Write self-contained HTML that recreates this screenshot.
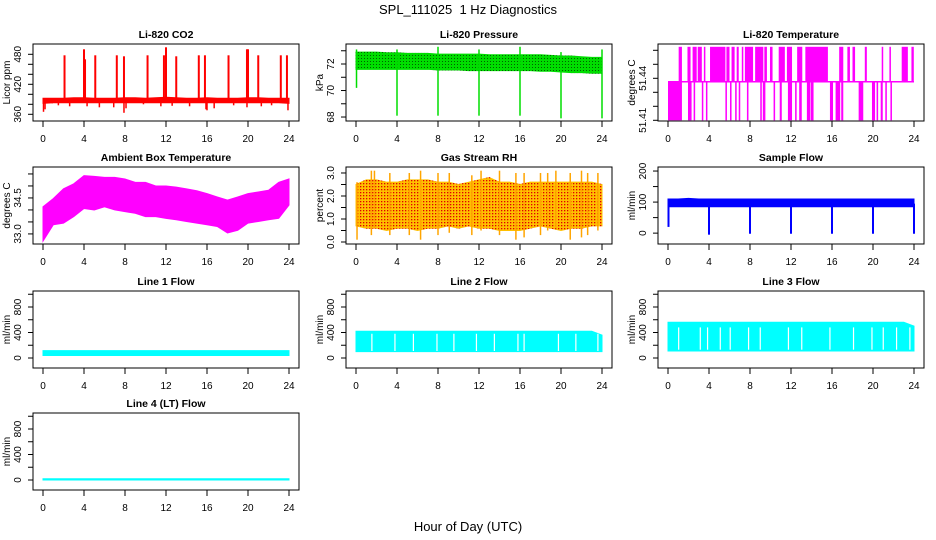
<!DOCTYPE html>
<html><head><meta charset="utf-8"><style>
body{margin:0;background:#fff}
svg{display:block;font-family:"Liberation Sans",sans-serif}
</style></head><body>
<svg id="c" width="936" height="540" viewBox="0 0 936 540">
<defs>
<pattern id="rhdots" width="3" height="3" patternUnits="userSpaceOnUse"><rect width="3" height="3" fill="#ffc000"/><rect x="0" y="0" width="1.3" height="1.3" fill="#e00000"/></pattern>
<pattern id="prdots" width="3" height="3" patternUnits="userSpaceOnUse"><rect width="3" height="3" fill="#00dd00"/><rect x="1" y="1" width="1" height="1" fill="#006000"/></pattern>
</defs>
<text x="468" y="14" text-anchor="middle" font-size="13">SPL_111025&#160; 1 Hz Diagnostics</text>
<text x="468" y="531" text-anchor="middle" font-size="13">Hour of Day (UTC)</text>
</svg>
<script>
// ---- data ----
const hours=[0,1,2,3,4,5,6,7,8,9,10,11,12,13,14,15,16,17,18,19,20,21,22,23,24];
const xTicks=[0,4,8,12,16,20,24];
// CO2
const co2Min=[382,383,383,383,383,383,383,383,383,383,383,383,383,383,383,383,383,383,383,383,383,383,383,383,382];
const co2Max=[392,392,392,393,393,392,392,392,393,393,392,393,394,393,392,392,393,392,392,392,393,393,392,392,392];
const co2SpikeT=[2.1,4.0,4.1,5.1,7.2,7.9,10.2,11.8,12.0,13.0,15.2,15.8,18.1,19.9,20.0,21.0,23.2,23.8];
const co2SpikeV=[478,490,470,478,478,476,478,478,494,476,478,478,478,490,490,478,478,478];
const co2DipT=[0.05,0.2,0.9,1.5,2.6,4.3,5.5,6.9,7.9,8.1,9.8,11.5,12.6,14.3,15.9,16.0,16.7,18.6,19.9,21.3,22.3,23.9];
const co2DipV=[365,370,382,378,376,376,374,374,363,372,380,376,377,376,370,368,372,378,374,376,378,368];
// Pressure
const prMin=[71.6,71.6,71.6,71.6,71.6,71.6,71.6,71.6,71.55,71.55,71.55,71.5,71.5,71.5,71.5,71.5,71.5,71.5,71.45,71.45,71.4,71.35,71.35,71.3,71.3];
const prMax=[72.9,72.9,72.9,72.85,72.85,72.8,72.8,72.8,72.75,72.75,72.75,72.75,72.75,72.7,72.7,72.7,72.7,72.7,72.7,72.65,72.6,72.6,72.55,72.5,72.5];
const prDipT=[0.05,4,8,12,16,20,24];
const prDipV=[70.2,68.1,68.1,68.1,68.1,67.9,67.9];
const prPeakV=[73.1,73.1,73.3,73.1,73.3,72.9,73.1];
// Li-820 temperature
const tLevels=[51.41,51.4375,51.4625];
const tHigh=[[1.04,1.36],[1.9,2.2],[2.4,2.8],[2.9,3.3],[3.5,3.6],[4.1,5.6],[5.7,6.0],[6.2,6.5],[6.7,6.9],[7.2,7.3],[7.5,8.3],[8.5,9.3],[9.4,9.65],[9.95,10.2],[10.8,11.4],[11.6,12.1],[12.6,13.1],[13.4,15.6],[16.7,17.1],[17.5,17.75],[18.0,18.25],[19.2,19.4],[20.85,20.95],[21.6,21.75],[22.8,23.4],[23.75,23.98]];
const tLow=[[0.0,1.36],[1.95,2.3],[2.5,2.65],[3.3,3.4],[3.7,3.8],[5.6,5.75],[6.05,6.2],[6.55,6.7],[6.9,7.05],[7.7,7.85],[9.0,9.15],[9.25,9.5],[10.3,10.45],[10.9,11.1],[11.7,12.1],[12.4,12.55],[12.8,13.05],[13.55,13.9],[13.95,14.2],[15.8,16.1],[16.35,16.8],[16.9,17.1],[18.6,19.05],[19.9,20.2],[20.35,20.5],[20.75,20.95],[21.2,21.35],[21.7,21.85]];
// Ambient box temperature
const ambMin=[32.7,33.38,33.45,33.72,34.06,34.0,34.13,34.0,33.93,33.86,33.72,33.72,33.65,33.59,33.52,33.45,33.38,33.31,33.04,33.15,33.45,33.52,33.59,33.65,34.2];
const ambMax=[34.13,34.47,34.88,35.09,35.43,35.4,35.36,35.36,35.29,35.15,35.15,35.0,35.0,34.95,34.88,34.8,34.68,34.54,34.41,34.54,34.68,34.75,34.82,35.15,35.29];
// Gas stream RH
const rhMin=[0.7,0.6,0.6,0.5,0.6,0.6,0.5,0.6,0.6,0.7,0.6,0.7,0.6,0.6,0.5,0.5,0.5,0.6,0.7,0.6,0.5,0.6,0.6,0.7,0.7];
const rhMax=[2.5,2.7,2.7,2.6,2.6,2.7,2.7,2.7,2.6,2.6,2.5,2.6,2.7,2.8,2.6,2.6,2.5,2.6,2.6,2.6,2.6,2.6,2.6,2.6,2.5];
const rhSpikeT=[0.1,1.5,1.8,3.3,5.2,6.3,8.0,9.1,11.3,12.2,14.0,15.6,16.4,18.0,18.7,19.5,20.9,22.0,22.6,23.6];
const rhSpikeLo=[0.1,0.3,0.6,0.3,0.3,0.1,0.3,0.4,0.3,0.5,0.3,0.1,0.2,0.3,0.5,0.6,0.1,0.2,0.3,0.5];
const rhSpikeHi=[2.6,3.1,3.1,3.0,3.0,3.1,3.0,3.0,2.9,3.1,3.1,3.0,3.0,3.0,3.0,3.1,3.0,3.1,3.0,3.0];
// Sample flow
const sfMin=[85,85,85,85,85,85,85,85,85,85,85,85,85,85,85,85,85,85,85,85,85,85,85,85,85];
const sfMax=[110,110,112,110,110,110,110,110,110,110,110,110,110,110,110,110,110,110,110,110,110,110,110,110,110];
const sfDipT=[0.05,4,8,12,16,20,24];
const sfDipV=[20,-5,-2,-2,-2,-2,-2];
// Line flows
const l1Min=[40,40,40,40,40,40,40,40,40,40,40,40,40,40,40,40,40,40,40,40,40,40,40,40,40];
const l1Max=[115,115,115,115,115,115,115,115,115,115,115,115,115,115,115,115,115,115,115,115,115,115,115,115,115];
const l2Min=[100,100,100,100,100,100,100,100,100,100,100,100,100,100,100,100,100,100,100,100,100,100,100,100,100];
const l2Max=[420,420,420,420,420,420,420,420,420,420,420,420,420,420,420,420,420,420,420,420,420,420,420,420,360];
const l2Gaps=[1.55,3.8,5.6,7.9,9.55,11.75,13.5,15.8,16.4,19.75,21.45,23.6];
const l3Min=[110,110,110,110,110,110,110,110,110,110,110,110,110,110,110,110,110,110,110,110,110,110,110,110,110];
const l3Max=[560,560,560,560,560,560,560,560,560,560,560,560,560,560,560,560,560,560,560,560,560,560,560,560,500];
const l3Gaps=[1.04,3.15,3.86,5.1,6.07,7.86,9.0,11.75,13.05,15.8,18.1,19.9,21.0,22.3,23.6];
const l4Min=[0,0,0,0,0,0,0,0,0,0,0,0,0,0,0,0,0,0,0,0,0,0,0,0,0];
const l4Max=[20,20,20,20,20,20,20,20,20,20,20,20,20,20,20,20,20,20,20,20,20,20,20,20,20];

// ---- rendering ----
const svg=document.getElementById('c');
const NS='http://www.w3.org/2000/svg';
const colL=[33,346,658], rowT=[44,167,291,413], W=266, H=77;
function mk(tag,attrs,parent){const e=document.createElementNS(NS,tag);for(const k in attrs)e.setAttribute(k,attrs[k]);(parent||svg).appendChild(e);return e;}
function panel(col,row,title,ylab,ymin,ymax,ticks,labels,name){
  const L=colL[col],T=rowT[row],B=T+H;
  const g=mk('g',{});
  
  
  const X=h=>L+10+h*(W-20)/24;
  const Y=v=>B-(v-ymin)/(ymax-ymin)*H;
  const plot=mk('g',{},g);
  
  
  const frame=mk('rect',{x:L,y:T,width:W,height:H,fill:'none',stroke:'#000','stroke-width':1},g);
  
  
  const t=mk('text',{x:L+W/2,y:T-6,'text-anchor':'middle','font-size':10.5,'font-weight':'bold'},g);t.textContent=title;
  
  
  const xa=mk('g',{},g);
  
  
  xTicks.forEach(h=>{mk('line',{x1:X(h),x2:X(h),y1:B,y2:B+6,stroke:'#000'},xa);const tx=mk('text',{x:X(h),y:B+21,'text-anchor':'middle','font-size':10},xa);tx.textContent=h;});
  const ya=mk('g',{},g);
  
  
  ticks.forEach((v,i)=>{const y=Y(v);mk('line',{x1:L-5,x2:L,y1:y,y2:y,stroke:'#000'},ya);
    if(labels[i]!==''){const tx=mk('text',{x:0,y:0,'text-anchor':'middle','font-size':10,transform:`translate(${L-12},${y}) rotate(-90)`},ya);tx.textContent=labels[i];}});
  const yl=mk('text',{x:0,y:0,'text-anchor':'middle','font-size':10,transform:`translate(${L-23},${T+H/2}) rotate(-90)`},g);yl.textContent=ylab;
  
  
  return {X,Y,g:plot};
}
function band(p,mn,mx,fill){
  let d='M'+hours.map((h,i)=>p.X(h)+','+p.Y(mx[i])).join('L');
  for(let i=hours.length-1;i>=0;i--)d+='L'+p.X(hours[i])+','+p.Y(mn[i]);
  const e=mk('path',{d:d+'Z',fill:fill,stroke:fill,'stroke-width':1},p.g);
  
  
}
function vl(p,h,v1,v2,c,w){const e=mk('line',{x1:p.X(h),x2:p.X(h),y1:p.Y(v1),y2:p.Y(v2),stroke:c,'stroke-width':w||1.5},p.g);
  
  }

// CO2
let p=panel(0,0,'Li-820 CO2','Licor ppm',346.6,500.6,[360,380,400,420,440,460,480],['360','','','420','','','480'],'co2');
band(p,co2Min,co2Max,'#ff0000');
co2SpikeT.forEach((h,i)=>vl(p,h,388,co2SpikeV[i],'#ff0000',2));
co2DipT.forEach((h,i)=>vl(p,h,388,co2DipV[i],'#ff0000',1.5));
// Pressure
p=panel(1,0,'Li-820 Pressure','kPa',67.7,73.51,[68,69,70,71,72,73],['68','','70','','72',''],'pressure');
band(p,prMin,prMax,'url(#prdots)');
prDipT.forEach((h,i)=>{vl(p,h,72,prDipV[i],'#00dd00',1.5);vl(p,h,72,prPeakV[i],'#00dd00',1.5);});
// Li-820 temperature
p=panel(2,0,'Li-820 Temperature','degrees C',51.4095,51.4645,[51.41,51.42,51.43,51.44,51.45,51.46],['51.41','','','51.44','',''],'licor-temp');
(function(){const e=mk('line',{x1:p.X(0),x2:p.X(24),y1:p.Y(tLevels[1]),y2:p.Y(tLevels[1]),stroke:'#ff00ff','stroke-width':1.5},p.g);})();
tHigh.forEach(s=>{const e=mk('rect',{x:p.X(s[0]),y:p.Y(tLevels[2]),width:Math.max(1.5,p.X(s[1])-p.X(s[0])),height:p.Y(tLevels[1])-p.Y(tLevels[2]),fill:'#ff00ff'},p.g);});
tLow.forEach(s=>{const e=mk('rect',{x:p.X(s[0]),y:p.Y(tLevels[1]),width:Math.max(1.5,p.X(s[1])-p.X(s[0])),height:p.Y(tLevels[0])-p.Y(tLevels[1]),fill:'#ff00ff'},p.g);});
// Ambient
p=panel(0,1,'Ambient Box Temperature','degrees C',32.58,35.79,[33,33.5,34,34.5,35,35.5],['33.0','','','34.5','',''],'ambient-temp');
band(p,ambMin,ambMax,'#ff00ff');
// RH
p=panel(1,1,'Gas Stream RH','percent',-0.087,3.26,[0,0.5,1,1.5,2,2.5,3],['0.0','','1.0','','2.0','','3.0'],'rh');
band(p,rhMin,rhMax,'url(#rhdots)');
rhSpikeT.forEach((h,i)=>vl(p,h,rhSpikeLo[i],rhSpikeHi[i],'#ffa500',1.5));
// Sample flow
p=panel(2,1,'Sample Flow','ml/min',-35,213,[0,50,100,150,200],['0','','100','','200'],'sample-flow');
band(p,sfMin,sfMax,'#0000ff');
sfDipT.forEach((h,i)=>vl(p,h,95,sfDipV[i],'#0000ff',2));
// Lines
const fT=[0,200,400,600,800,1000], fL=['0','','400','','800',''];
p=panel(0,2,'Line 1 Flow','ml/min',-157,1051,fT,fL,'line1-flow'); band(p,l1Min,l1Max,'#00ffff');
p=panel(1,2,'Line 2 Flow','ml/min',-157,1051,fT,fL,'line2-flow'); band(p,l2Min,l2Max,'#00ffff');
l2Gaps.forEach(h=>vl(p,h,110,380,'#ffffff',1.2));
p=panel(2,2,'Line 3 Flow','ml/min',-157,1051,fT,fL,'line3-flow'); band(p,l3Min,l3Max,'#00ffff');
l3Gaps.forEach(h=>vl(p,h,130,480,'#ffffff',1.2));
p=panel(0,3,'Line 4 (LT) Flow','ml/min',-157,1051,fT,fL,'line4-flow'); band(p,l4Min,l4Max,'#00ffff');
</script>
</body></html>
